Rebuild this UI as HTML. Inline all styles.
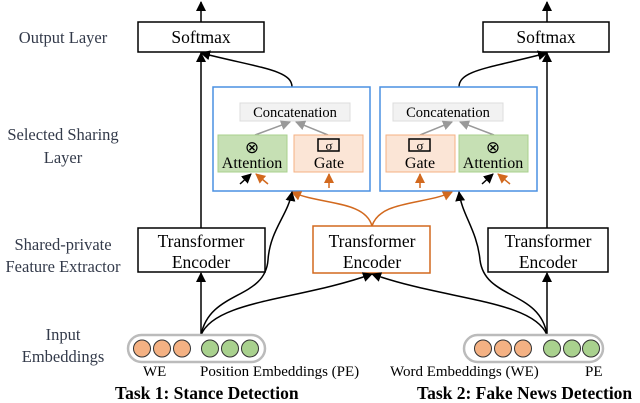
<!DOCTYPE html>
<html><head><meta charset="utf-8"><style>
body{margin:0;background:#fff}
svg{display:block}
text{font-family:"Liberation Serif","Times New Roman",serif}
</style></head><body>
<svg width="640" height="403" viewBox="0 0 640 403" xmlns="http://www.w3.org/2000/svg" font-family="Liberation Serif, serif">
<defs>
<marker id="ak" markerWidth="10" markerHeight="10" refX="9" refY="5" orient="auto" markerUnits="userSpaceOnUse"><path d="M0,0 L10,5 L0,10 z" fill="#000"/></marker>
<marker id="ao" markerWidth="10" markerHeight="10" refX="9" refY="5" orient="auto" markerUnits="userSpaceOnUse"><path d="M0,0 L10,5 L0,10 z" fill="#d2691e"/></marker>
<marker id="ag" markerWidth="10" markerHeight="10" refX="9" refY="5" orient="auto" markerUnits="userSpaceOnUse"><path d="M0,0 L10,5 L0,10 z" fill="#999"/></marker>
</defs>
<g fill="#333a4a" font-size="16.5" text-anchor="middle">
<text x="63" y="43">Output Layer</text>
<text x="63" y="140">Selected  Sharing</text>
<text x="63" y="163">Layer</text>
<text x="63" y="250">Shared-private</text>
<text x="63" y="272">Feature Extractor</text>
<text x="63" y="340">Input</text>
<text x="63" y="362">Embeddings</text>
</g>
<g fill="#fff" stroke="#000" stroke-width="1.5">
<rect x="138" y="22" width="126" height="30"/>
<rect x="483" y="22" width="126" height="30"/>
<rect x="138" y="228" width="127" height="44"/>
<rect x="488" y="228" width="120" height="44"/>
</g>
<rect x="313" y="226" width="117" height="47" fill="#fff" stroke="#d2691e" stroke-width="1.5"/>
<g font-size="17.5" text-anchor="middle" fill="#000">
<text x="201" y="43">Softmax</text>
<text x="546" y="43">Softmax</text>
<text x="201" y="247">Transformer</text><text x="201" y="268">Encoder</text>
<text x="548" y="247">Transformer</text><text x="548" y="268">Encoder</text>
<text x="372" y="247">Transformer</text><text x="372" y="268">Encoder</text>
</g>
<g stroke="#000" stroke-width="1.5" fill="none">
<line x1="201" y1="22" x2="201" y2="2" marker-end="url(#ak)"/>
<line x1="547" y1="22" x2="547" y2="2" marker-end="url(#ak)"/>
<line x1="201" y1="228" x2="201" y2="53" marker-end="url(#ak)"/>
<line x1="547" y1="228" x2="547" y2="53" marker-end="url(#ak)"/>
<path d="M292,87 C292,70 260,68 201,53" marker-end="url(#ak)"/>
<path d="M459,87 C459,70 490,68 547,53" marker-end="url(#ak)"/>
<line x1="292" y1="103" x2="292" y2="88" marker-end="url(#ak)"/>
<line x1="459" y1="103" x2="459" y2="88" marker-end="url(#ak)"/>
</g>
<rect x="213" y="87" width="157" height="104" fill="#fff" stroke="#4a90e2" stroke-width="1.5"/>
<rect x="380" y="87" width="157" height="104" fill="#fff" stroke="#4a90e2" stroke-width="1.5"/>
<rect x="240" y="103" width="110" height="18" fill="#f2f2f2" stroke="#ddd"/>
<rect x="393" y="103" width="110" height="18" fill="#f2f2f2" stroke="#ddd"/>
<g stroke="#999" stroke-width="1.5" fill="none">
<line x1="255" y1="135" x2="290" y2="122" marker-end="url(#ag)"/>
<line x1="328" y1="135" x2="296" y2="122" marker-end="url(#ag)"/>
<line x1="420" y1="135" x2="452" y2="122" marker-end="url(#ag)"/>
<line x1="494" y1="135" x2="460" y2="122" marker-end="url(#ag)"/>
</g>
<g font-size="14.5" text-anchor="middle" fill="#000">
<text x="295" y="117">Concatenation</text>
<text x="448" y="117">Concatenation</text>
</g>
<rect x="218" y="135" width="69" height="37" fill="#c6e0b4" stroke="#a9d08e"/>
<rect x="294" y="135" width="69" height="37" fill="#fbe5d6" stroke="#f4b183"/>
<rect x="386" y="135" width="69" height="37" fill="#fbe5d6" stroke="#f4b183"/>
<rect x="459" y="135" width="69" height="37" fill="#c6e0b4" stroke="#a9d08e"/>
<g font-size="16" text-anchor="middle" fill="#000">
<text x="252" y="168">Attention</text>
<text x="329" y="168">Gate</text>
<text x="420" y="168">Gate</text>
<text x="493" y="168">Attention</text>
<text x="252" y="153" font-size="17">⊗</text>
<text x="493" y="153" font-size="17">⊗</text>
</g>
<g fill="none" stroke="#000" stroke-width="1.5">
<rect x="318" y="139" width="21" height="12"/>
<rect x="409" y="139" width="21" height="12"/>
</g>
<g font-size="13" text-anchor="middle"><text x="329" y="150">σ</text><text x="420" y="150">σ</text></g>
<g stroke-width="1.5" fill="none">
<line x1="240" y1="184" x2="251" y2="174" stroke="#000" marker-end="url(#ak)"/>
<line x1="268" y1="184" x2="256" y2="174" stroke="#d2691e" marker-end="url(#ao)"/>
<line x1="329" y1="188" x2="329" y2="174" stroke="#d2691e" marker-end="url(#ao)"/>
<line x1="420" y1="188" x2="420" y2="174" stroke="#d2691e" marker-end="url(#ao)"/>
<line x1="482" y1="184" x2="493" y2="174" stroke="#000" marker-end="url(#ak)"/>
<line x1="510" y1="184" x2="498" y2="174" stroke="#d2691e" marker-end="url(#ao)"/>
</g>
<g stroke="#d2691e" stroke-width="1.5" fill="none">
<path d="M372,226 C365,200 320,205 292,192" marker-end="url(#ao)"/>
<path d="M372,226 C380,200 425,205 452,192" marker-end="url(#ao)"/>
</g>
<g stroke="#000" stroke-width="1.5" fill="none">
<line x1="201" y1="335" x2="201" y2="273" marker-end="url(#ak)"/>
<line x1="547" y1="335" x2="547" y2="273" marker-end="url(#ak)"/>
<path d="M201,335 C210,290 265,300 268,260 C270,230 288,215 292,192" marker-end="url(#ak)"/>
<path d="M547,335 C540,290 485,300 480,260 C477,230 462,215 459,192" marker-end="url(#ak)"/>
<path d="M201,335 C215,300 300,300 372,274" marker-end="url(#ak)"/>
<path d="M547,335 C533,300 445,300 372,274" marker-end="url(#ak)"/>
</g>
<rect x="128" y="335" width="137" height="27" rx="13.5" fill="#fff" stroke="#bbb" stroke-width="2.5"/>
<rect x="464" y="335" width="139" height="27" rx="13.5" fill="#fff" stroke="#bbb" stroke-width="2.5"/>
<g stroke="#333" stroke-width="1">
<circle cx="142" cy="348.5" r="8.5" fill="#f4b183"/><circle cx="162" cy="348.5" r="8.5" fill="#f4b183"/><circle cx="182" cy="348.5" r="8.5" fill="#f4b183"/>
<circle cx="210" cy="348.5" r="8.5" fill="#a9d18e"/><circle cx="230" cy="348.5" r="8.5" fill="#a9d18e"/><circle cx="250" cy="348.5" r="8.5" fill="#a9d18e"/>
<circle cx="483" cy="348.5" r="8.5" fill="#f4b183"/><circle cx="503" cy="348.5" r="8.5" fill="#f4b183"/><circle cx="523" cy="348.5" r="8.5" fill="#f4b183"/>
<circle cx="552" cy="348.5" r="8.5" fill="#a9d18e"/><circle cx="572" cy="348.5" r="8.5" fill="#a9d18e"/><circle cx="591" cy="348.5" r="8.5" fill="#a9d18e"/>
</g>
<g font-size="15" fill="#000">
<text x="143" y="376">WE</text>
<text x="200" y="376">Position Embeddings (PE)</text>
<text x="390" y="376">Word Embeddings (WE)</text>
<text x="585" y="376">PE</text>
</g>
<g font-size="17.5" font-weight="bold" fill="#000">
<text x="115" y="399">Task 1: Stance Detection</text>
<text x="417" y="399">Task 2: Fake News Detection</text>
</g>
</svg>
</body></html>
